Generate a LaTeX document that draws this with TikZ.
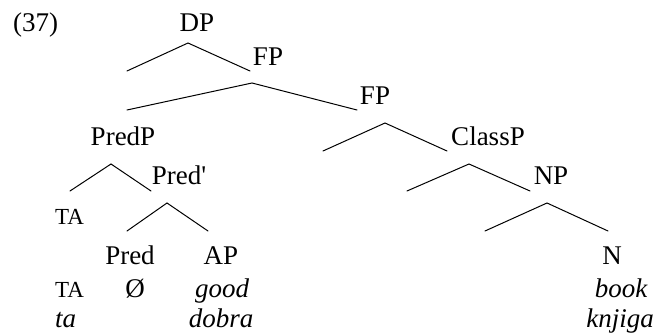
\documentclass[tikz,border=0pt]{standalone}
\usepackage{fontspec}
\setmainfont{Liberation Serif}
% same face without TeX ligature mapping, for a straight apostrophe
\newfontfamily\straightfont[Ligatures=Common]{Liberation Serif}
\begin{document}
\begin{tikzpicture}[x=1pt,y=-1pt,
  lbl/.style={inner sep=0pt,anchor=base,font=\fontsize{27}{30}\selectfont},
  glossit/.style={lbl,font=\fontsize{27}{30}\selectfont\itshape},
  smallcap/.style={inner sep=0pt,anchor=base west,font=\fontsize{23}{26}\selectfont},
  branch/.style={line width=1pt,line cap=round}]
\useasboundingbox (0,0) rectangle (660,336);

% example number
\node[inner sep=0pt,anchor=base west,font=\fontsize{27}{30}\selectfont] (num) at (13,32) {(37)};

% category labels
\node[lbl] (dp)     at (197,32)  {DP};
\node[lbl] (fpa)    at (268,66)  {FP};
\node[lbl] (fpb)    at (375,105) {FP};
\node[lbl] (predp)  at (123,146) {PredP};
\node[lbl] (classp) at (488,146) {ClassP};
\node[lbl] (predbar) at (179,185) {{\straightfont Pred'}};
\node[lbl] (np)     at (551,185) {NP};
\node[smallcap] (ta) at (55,225) {TA};
\node[lbl] (pred)   at (130,265) {Pred};
\node[lbl] (ap)     at (221,265) {AP};
\node[lbl] (n)      at (612,265) {N};

% glosses and words
\node[smallcap] (tagloss) at (55,297) {TA};
\node[lbl] (null)  at (135,297) {Ø};
\node[glossit] (good)  at (222,297) {good};
\node[glossit] (book)  at (621,297) {book};
\node[glossit,anchor=base west] (ta2)  at (55,327) {ta};
\node[glossit] (dobra) at (221,327) {dobra};
\node[glossit] (knjiga) at (620,327) {knjiga};

% branching points
\coordinate (dpTop) at (188,43);
\coordinate (dpL)   at (127,71);
\coordinate (dpR)   at (250,71);
\coordinate (fpaTop) at (252,83);
\coordinate (fpaL)   at (127,110);
\coordinate (fpaR)   at (357,110);
\coordinate (fpbTop) at (385,123);
\coordinate (fpbL)   at (323,151);
\coordinate (fpbR)   at (447,151);
\coordinate (predpTop) at (111,164);
\coordinate (predpL)   at (70,191);
\coordinate (predpR)   at (151,191);
\coordinate (classpTop) at (469,164);
\coordinate (classpL)   at (407,191);
\coordinate (classpR)   at (530,191);
\coordinate (predbarTop) at (167,203);
\coordinate (predbarL)   at (127,231);
\coordinate (predbarR)   at (208,231);
\coordinate (npTop) at (547,203);
\coordinate (npL)   at (485,231);
\coordinate (npR)   at (608,231);

% branches
\draw[branch] (dpL) -- (dpTop) -- (dpR);
\draw[branch] (fpaL) -- (fpaTop) -- (fpaR);
\draw[branch] (fpbL) -- (fpbTop) -- (fpbR);
\draw[branch] (predpL) -- (predpTop) -- (predpR);
\draw[branch] (classpL) -- (classpTop) -- (classpR);
\draw[branch] (predbarL) -- (predbarTop) -- (predbarR);
\draw[branch] (npL) -- (npTop) -- (npR);
\end{tikzpicture}
\end{document}
